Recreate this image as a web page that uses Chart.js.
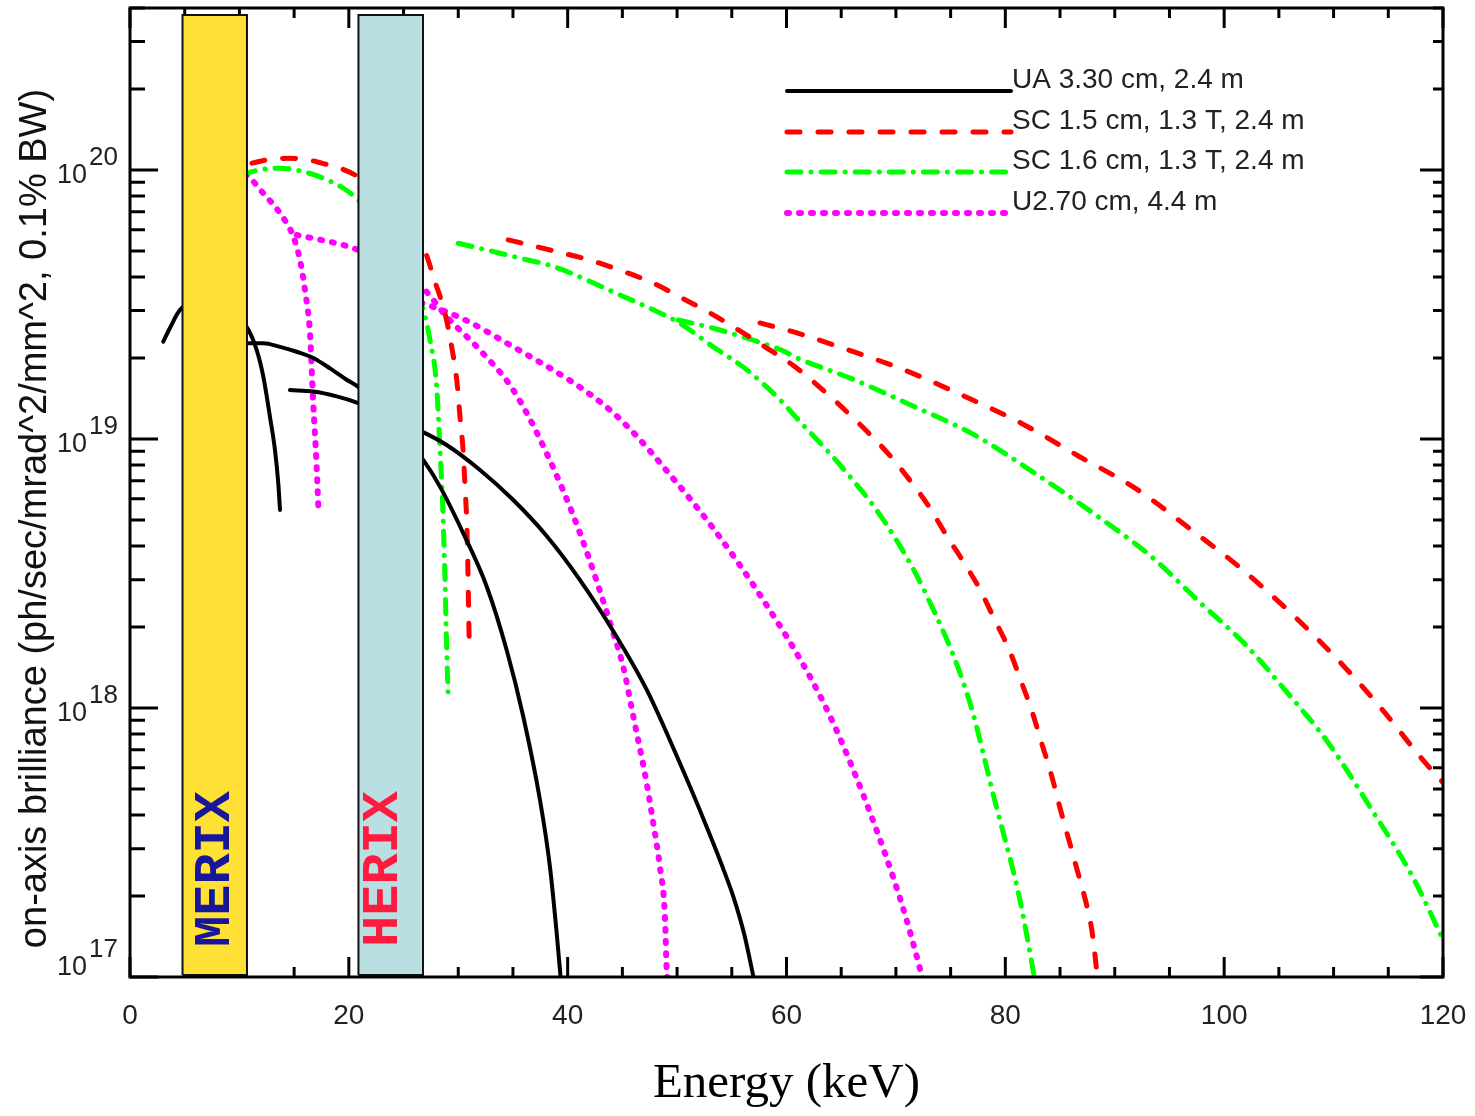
<!DOCTYPE html>
<html>
<head>
<meta charset="utf-8">
<script src="https://cdn.jsdelivr.net/npm/chart.js@4.4.1/dist/chart.umd.min.js"></script>
<style>
  html, body { margin: 0; padding: 0; background: #fff; }
  #wrap { width: 1475px; height: 1116px; }
</style>
</head>
<body>
<div id="wrap"><canvas id="chart" width="1475" height="1116"></canvas></div>
<script>
// legend names of the four devices
const seriesNames = ['UA 3.30 cm, 2.4 m', 'SC 1.5 cm, 1.3 T, 2.4 m', 'SC 1.6 cm, 1.3 T, 2.4 m', 'U2.70 cm, 4.4 m'];

// UA 3.30 cm : energy (keV) / brilliance, per harmonic
const uaH1Energy = [3.04, 3.66, 4.57, 7.0, 10.66, 11.58, 12.18, 12.79, 13.25, 13.55, 13.71];
const uaH1Bril   = [2.30e19, 2.59e19, 3.02e19, 3.3e19, 2.61e19, 2.14e19, 1.71e19, 1.21e19, 9.1e18, 6.86e18, 5.45e18];
const uaH3Energy = [10.0, 10.66, 12.18, 13.71, 15.23, 16.75, 18.28, 19.80, 20.86, 24.0, 26.80, 28.33, 30.46, 32.60, 34.43, 35.94, 37.47, 38.38, 39.00, 39.40];
const uaH3Bril   = [2.25e19, 2.27e19, 2.27e19, 2.20e19, 2.11e19, 2.0e19, 1.83e19, 1.66e19, 1.56e19, 1.15e19, 8.36e18, 6.65e18, 4.46e18, 2.83e18, 1.64e18, 9.3e17, 4.55e17, 2.57e17, 1.45e17, 0.95e17];
const uaH5Energy = [14.62, 16.75, 18.89, 20.86, 26.80, 28.94, 31.99, 35.03, 38.08, 41.13, 44.17, 47.22, 50.27, 52.0, 53.31, 54.29, 55.14, 56.12, 57.10];
const uaH5Bril   = [1.52e19, 1.50e19, 1.44e19, 1.36e19, 1.06e19, 9.5e18, 7.67e18, 5.93e18, 4.36e18, 2.99e18, 1.93e18, 1.17e18, 6.22e17, 4.25e17, 3.14e17, 2.48e17, 1.99e17, 1.45e17, 0.95e17];

// SC 1.5 cm
const sc15H1Energy = [11.15, 12.5, 14.62, 16.30, 17.52, 19.19, 20.86, 24.0, 26.80, 27.87, 28.79, 29.40, 29.86, 30.16, 30.46, 30.62, 30.77, 30.86, 30.92, 31.01];
const sc15H1Bril   = [1.06e20, 1.09e20, 1.105e20, 1.09e20, 1.06e20, 1.015e20, 9.44e19, 7.7e19, 5.19e19, 3.85e19, 2.93e19, 2.20e19, 1.66e19, 1.21e19, 8.86e18, 6.65e18, 5.0e18, 3.65e18, 2.67e18, 1.69e18];
const sc15H3Energy = [34.57, 38.99, 42.04, 44.78, 47.80, 50.26, 52.82, 55.75, 58.03, 60.59, 62.78, 66.26, 69.35, 71.28, 73.02, 74.57, 76.12, 77.66, 79.02, 80.37, 81.34, 82.42, 83.27, 84.24, 85.01, 85.78, 86.55, 87.32, 87.91, 88.29, 88.45];
const sc15H3Bril   = [5.50e19, 4.97e19, 4.62e19, 4.24e19, 3.80e19, 3.37e19, 2.97e19, 2.52e19, 2.20e19, 1.88e19, 1.59e19, 1.18e19, 8.77e18, 7.02e18, 5.61e18, 4.41e18, 3.52e18, 2.77e18, 2.13e18, 1.64e18, 1.29e18, 9.75e17, 7.52e17, 5.58e17, 4.23e17, 3.26e17, 2.51e17, 1.93e17, 1.49e17, 1.11e17, 0.95e17];
const sc15H5Energy = [57.58, 59.10, 61.23, 65.10, 70.70, 76.12, 81.53, 86.75, 91.97, 96.80, 101.43, 106.07, 110.33, 114.38, 118.06, 120.0];
const sc15H5Bril   = [2.70e19, 2.60e19, 2.46e19, 2.18e19, 1.81e19, 1.45e19, 1.14e19, 8.61e18, 6.52e18, 4.66e18, 3.33e18, 2.26e18, 1.52e18, 9.94e17, 6.48e17, 5.28e17];

// SC 1.6 cm
const sc16H1Energy = [10.2, 10.66, 12.18, 13.71, 15.84, 17.67, 19.50, 20.86, 24.0, 26.80, 27.42, 28.03, 28.33, 28.56, 28.79, 28.94, 29.09];
const sc16H1Bril   = [9.6e19, 9.73e19, 1.006e20, 1.015e20, 9.86e19, 9.31e19, 8.55e19, 7.73e19, 5.4e19, 3.02e19, 2.33e19, 1.56e19, 9.1e18, 5.93e18, 2.99e18, 1.69e18, 1.07e18];
const sc16H3Energy = [30.00, 32.60, 35.64, 38.69, 41.74, 44.78, 47.83, 50.27, 53.31, 56.36, 59.40, 61.23, 63.67, 65.10, 68.96, 72.83, 76.69, 79.02, 81.34, 82.75];
const sc16H3Bril   = [5.34e19, 5.04e19, 4.70e19, 4.38e19, 3.90e19, 3.43e19, 3.02e19, 2.69e19, 2.20e19, 1.81e19, 1.40e19, 1.16e19, 9.10e18, 7.83e18, 4.93e18, 2.61e18, 1.07e18, 4.55e17, 1.93e17, 0.95e17];
const sc16H5Energy = [50.11, 53.31, 56.36, 59.40, 61.23, 65.88, 71.67, 77.08, 82.50, 88.29, 93.32, 97.96, 101.83, 105.69, 109.56, 113.42, 117.29, 120.0];
const sc16H5Bril   = [2.77e19, 2.58e19, 2.37e19, 2.15e19, 1.98e19, 1.68e19, 1.32e19, 1.04e19, 7.55e18, 5.21e18, 3.66e18, 2.43e18, 1.74e18, 1.15e18, 7.38e17, 4.23e17, 2.33e17, 1.38e17];

// U2.70 cm
const u27H1Energy = [9.5, 10.66, 12.18, 13.71, 14.93, 15.54, 15.99, 16.45, 16.73, 17.06, 17.21];
const u27H1Bril   = [1.0e20, 9.58e19, 8.19e19, 6.90e19, 5.65e19, 4.62e19, 3.58e19, 2.47e19, 1.40e19, 7.89e18, 5.60e18];
const u27H3Energy = [15.23, 16.75, 19.50, 20.86, 24.0, 26.80, 28.94, 31.99, 35.03, 38.08, 41.13, 44.17, 45.08, 46.0, 47.22, 47.83, 48.43, 48.89, 49.05, 49.2];
const u27H3Bril   = [5.73e19, 5.57e19, 5.26e19, 5.04e19, 4.4e19, 3.63e19, 2.85e19, 2.14e19, 1.52e19, 8.85e18, 4.46e18, 1.90e18, 1.42e18, 9.3e17, 5.25e17, 3.72e17, 2.57e17, 1.68e17, 1.06e17, 0.93e17];
const u27H5Energy = [25.5, 26.80, 30.46, 35.03, 39.60, 41.9, 44.17, 46.45, 48.74, 53.31, 57.88, 62.45, 65.10, 68.96, 70.90, 72.55];
const u27H5Bril   = [3.3e19, 3.19e19, 2.79e19, 2.20e19, 1.71e19, 1.48e19, 1.25e19, 1.01e19, 7.89e18, 4.65e18, 2.52e18, 1.24e18, 7.38e17, 2.91e17, 1.67e17, 0.95e17];

// spectrometer bands (keV) and their vertical span
const bandNames = ['MERIX', 'HERIX'];
const merixRange = [4.80, 10.69];
const herixRange = [20.88, 26.78];
const bandSpan = [1.017e17, 3.77e20];

// axis ticks
const xTickLabels = [0, 20, 40, 60, 80, 100, 120];
const yDecades = [17, 18, 19, 20];

const seriesStyle = [
  { color: '#000000', width: 4, dash: [] },
  { color: '#ff0000', width: 5, dash: [13, 18] },
  { color: '#00ff00', width: 5, dash: [14, 10, 0.1, 10] },
  { color: '#ff00ff', width: 6, dash: [2, 10] }
];

function pts(xs, ys) {
  return xs.map(function(x, i) { return { x: x, y: ys[i] }; });
}

function curve(s, xs, ys) {
  const st = seriesStyle[s];
  return {
    label: seriesNames[s],
    data: pts(xs, ys),
    borderColor: st.color,
    borderWidth: st.width,
    borderDash: st.dash,
    borderCapStyle: 'round',
    borderJoinStyle: 'round',
    pointRadius: 0,
    fill: false,
    cubicInterpolationMode: 'monotone',
    order: 2
  };
}

function band(name, r, color) {
  const lo = bandSpan[0], hi = bandSpan[1];
  return {
    label: name,
    data: [{x: r[0], y: lo}, {x: r[0], y: hi}, {x: r[1], y: hi}, {x: r[1], y: lo}, {x: r[0], y: lo}],
    borderColor: '#111',
    borderWidth: 2,
    backgroundColor: color,
    fill: 'shape',
    pointRadius: 0,
    tension: 0,
    order: 0
  };
}

const sans = 'Liberation Sans, Arial, Helvetica, sans-serif';

const decorPlugin = {
  id: 'decor',
  beforeDatasetsDraw: function(chart) {
    const ctx = chart.ctx, ca = chart.chartArea;
    const xs = chart.scales.x, ys = chart.scales.y;
    ctx.save();
    ctx.strokeStyle = '#000';
    ctx.lineWidth = 3;
    ctx.beginPath();
    for (let v = xs.min; v <= xs.max; v += 5) {
      const px = xs.getPixelForValue(v);
      const len = v % 20 === 0 ? 20 : 10;
      ctx.moveTo(px, ca.bottom); ctx.lineTo(px, ca.bottom - len);
      ctx.moveTo(px, ca.top); ctx.lineTo(px, ca.top + len);
    }
    yDecades.forEach(function(e) {
      for (let m = 1; m <= 9; m++) {
        const v = m * Math.pow(10, e);
        if (v < ys.min * 0.999 || v > ys.max * 1.001) continue;
        const py = ys.getPixelForValue(v);
        ctx.moveTo(ca.left, py); ctx.lineTo(ca.left + (m === 1 ? 28 : 15), py);
        ctx.moveTo(ca.right, py); ctx.lineTo(ca.right - (m === 1 ? 23 : 10), py);
      }
    });
    ctx.stroke();
    ctx.restore();
  },
  afterDatasetsDraw: function(chart) {
    const ctx = chart.ctx, ca = chart.chartArea;
    const xs = chart.scales.x, ys = chart.scales.y;
    ctx.save();

    // band labels
    ctx.font = 'bold 52px "Liberation Mono", "DejaVu Sans Mono", monospace';
    ctx.textBaseline = 'middle';
    ctx.textAlign = 'left';
    [[merixRange, '#17179c', 1], [herixRange, '#ff1a40', -7]].forEach(function(b, i) {
      const cx = xs.getPixelForValue((b[0][0] + b[0][1]) / 2) + b[2];
      ctx.save();
      ctx.translate(cx, ca.bottom - 30);
      ctx.rotate(-Math.PI / 2);
      ctx.fillStyle = b[1];
      ctx.fillText(bandNames[i], 0, 0);
      ctx.restore();
    });

    // frame
    ctx.strokeStyle = '#000';
    ctx.lineWidth = 3;
    ctx.strokeRect(ca.left, ca.top, ca.right - ca.left, ca.bottom - ca.top);

    // legend
    const lx0 = ca.left + 657, lx1 = ca.left + 881;
    const rows = [ca.top + 83, ca.top + 124, ca.top + 164, ca.top + 205];
    ctx.font = '28px ' + sans;
    ctx.textAlign = 'left';
    ctx.textBaseline = 'alphabetic';
    seriesStyle.forEach(function(st, i) {
      ctx.beginPath();
      ctx.strokeStyle = st.color;
      ctx.lineWidth = st.width;
      ctx.lineCap = 'round';
      ctx.setLineDash(st.dash);
      ctx.moveTo(lx0, rows[i]);
      ctx.lineTo(lx1, rows[i]);
      ctx.stroke();
      ctx.setLineDash([]);
      ctx.fillStyle = '#222';
      ctx.fillText(seriesNames[i], lx1 + 1, rows[i] - 3.5);
    });

    // y tick labels 10^n
    ctx.fillStyle = '#222';
    yDecades.forEach(function(e) {
      const py = ys.getPixelForValue(Math.pow(10, e));
      const base = Math.min(py + 13, ca.bottom - 2);
      ctx.font = '27px ' + sans;
      ctx.textAlign = 'right';
      ctx.fillText('10', ca.left - 43, base);
      ctx.font = '26px ' + sans;
      ctx.textAlign = 'left';
      ctx.fillText(String(e), ca.left - 41, base - 18);
    });

    // y title
    ctx.save();
    ctx.translate(36, (ca.top + ca.bottom) / 2 + 26);
    ctx.rotate(-Math.PI / 2);
    ctx.font = '38px ' + sans;
    ctx.textAlign = 'center';
    ctx.textBaseline = 'middle';
    ctx.fillStyle = '#111';
    ctx.fillText('on-axis brilliance (ph/sec/mrad^2/mm^2, 0.1% BW)', 0, 0);
    ctx.restore();

    ctx.restore();
  }
};

const ctx = document.getElementById('chart').getContext('2d');
new Chart(ctx, {
  type: 'line',
  data: {
    datasets: [
      band(bandNames[0], merixRange, '#ffe135'),
      band(bandNames[1], herixRange, '#badfe2'),
      curve(0, uaH1Energy, uaH1Bril),
      curve(0, uaH3Energy, uaH3Bril),
      curve(0, uaH5Energy, uaH5Bril),
      curve(1, sc15H1Energy, sc15H1Bril),
      curve(1, sc15H3Energy, sc15H3Bril),
      curve(1, sc15H5Energy, sc15H5Bril),
      curve(2, sc16H1Energy, sc16H1Bril),
      curve(2, sc16H3Energy, sc16H3Bril),
      curve(2, sc16H5Energy, sc16H5Bril),
      curve(3, u27H1Energy, u27H1Bril),
      curve(3, u27H3Energy, u27H3Bril),
      curve(3, u27H5Energy, u27H5Bril)
    ]
  },
  options: {
    responsive: false,
    animation: false,
    layout: { padding: { top: 8, right: 32, left: 0, bottom: 0 } },
    plugins: {
      legend: { display: false },
      tooltip: { enabled: false }
    },
    scales: {
      x: {
        type: 'linear',
        min: 0,
        max: 120,
        grid: { display: true, drawOnChartArea: false, drawTicks: true, tickLength: 14, color: 'rgba(0,0,0,0)' },
        border: { display: false },
        afterBuildTicks: function(s) { s.ticks = xTickLabels.map(function(v) { return { value: v }; }); },
        ticks: {
          font: { family: sans, size: 28 },
          color: '#222',
          padding: 8,
          maxRotation: 0,
          autoSkip: false
        },
        title: {
          display: true,
          text: 'Energy (keV)',
          font: { family: 'Liberation Serif, "Times New Roman", serif', size: 49 },
          color: '#000',
          padding: { top: 0, bottom: 2 }
        },
        afterFit: function(s) { s.height = 139; }
      },
      y: {
        type: 'logarithmic',
        min: 1e17,
        max: 4e20,
        grid: { display: false, drawTicks: false },
        border: { display: false },
        ticks: { display: false },
        afterFit: function(s) { s.width = 130; }
      }
    }
  },
  plugins: [decorPlugin]
});
</script>
</body>
</html>
